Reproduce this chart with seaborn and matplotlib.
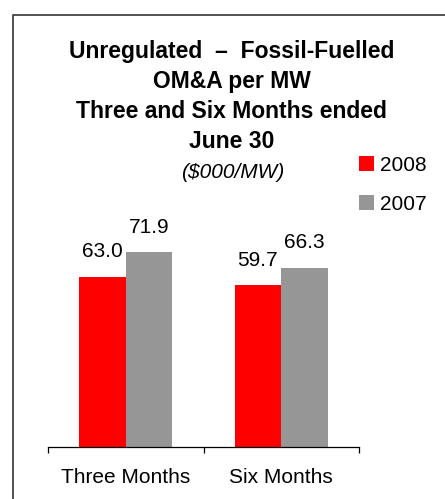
import pandas as pd
import matplotlib.pyplot as plt
import seaborn as sns
from matplotlib.lines import Line2D
from matplotlib.ticker import FixedLocator

# Chart data
periods = ['Three Months', 'Six Months']
years = ['2008', '2007']
values_2008 = [63.0, 59.7]
values_2007 = [71.9, 66.3]
title_lines = ['Unregulated  \u2013  Fossil-Fuelled', 'OM&A per MW',
               'Three and Six Months ended', 'June 30']
subtitle = '($000/MW)'

df = pd.DataFrame({
    'Period': periods * 2,
    'Year': [years[0]] * len(periods) + [years[1]] * len(periods),
    'Value': values_2008 + values_2007,
})

sns.set_style('white')
plt.rcParams['font.family'] = ['Liberation Sans', 'DejaVu Sans']
plt.rcParams['text.color'] = 'black'
plt.rcParams['xtick.color'] = 'black'
plt.rcParams['xtick.labelcolor'] = 'black'

W, H = 445, 499
fig = plt.figure(figsize=(W / 100, H / 100), dpi=100)
ax = fig.add_axes([48 / W, 52 / H, 311 / W, 243.5 / H])

sns.barplot(data=df, x='Period', y='Value', hue='Year', hue_order=years,
            order=periods, palette={'2008': '#FF0000', '2007': '#969696'},
            width=0.6, saturation=1, linewidth=0, edgecolor='none', ax=ax, legend=True)

for cont in ax.containers:
    ax.bar_label(cont, fmt='%.1f', padding=11, fontsize=15, color='black')

ax.set_ylim(0, 90)
ax.set_xlim(-0.5, 1.5)
ax.set_xlabel('')
ax.set_ylabel('')
ax.set_yticks([])
for side in ['left', 'top', 'right']:
    ax.spines[side].set_visible(False)
ax.spines['bottom'].set_color('black')
ax.spines['bottom'].set_linewidth(0.9)
ax.tick_params(axis='x', which='major', length=0, pad=15, labelsize=15, labelcolor='black')
ax.xaxis.set_minor_locator(FixedLocator([-0.5, 0.5, 1.5]))
ax.tick_params(axis='x', which='minor', length=4.5, width=0.9, direction='out', color='black', bottom=True)

# legend at the right of the subtitle
handles, labels = ax.get_legend_handles_labels()
ax.get_legend().remove()
fig.legend(handles, labels, loc='upper left', bbox_to_anchor=(359 / W, 1 - 156 / H),
           frameon=False, fontsize=15, handlelength=0.72, handleheight=0.7,
           handletextpad=0.3, labelspacing=0.95, borderpad=0, borderaxespad=0)

# title block
cx = 231.5 / W
for i, line in enumerate(title_lines):
    fig.text(cx, 1 - (58 + 30 * i) / H, line, ha='center', va='baseline',
             fontsize=16.5, fontweight='bold')
fig.text(cx + 1.5 / W, 1 - 178 / H, subtitle, ha='center', va='baseline',
         fontsize=15, style='italic')

# outer frame (left and top edges only)
fig.add_artist(Line2D([13 / W, 13 / W, 1], [0, 1 - 15 / H, 1 - 15 / H],
                      transform=fig.transFigure, color='#333333', lw=1.2))

fig.savefig('out.png', dpi=100)
